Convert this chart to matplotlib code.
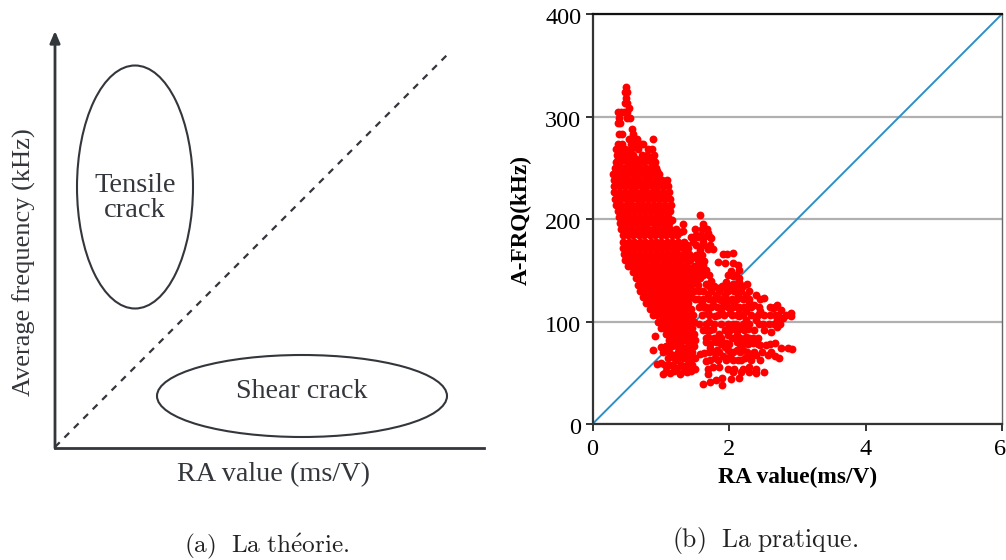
import matplotlib.pyplot as plt
from matplotlib.patches import Ellipse
from matplotlib.transforms import ScaledTranslation

plt.rcParams["font.family"] = ["Liberation Serif", "DejaVu Serif"]
plt.rcParams["mathtext.fontset"] = "cm"

# %% Data: dense body as A-FRQ rows with their RA values
afrq_rows = [329, 324, 318, 313, 308, 304, 299, 294, 288, 283, 278, 273, 268, 262, 256,
             250, 244, 238, 232, 226, 220, 214, 208, 202, 196, 190, 184, 178, 172, 166,
             160, 154, 148, 142, 136, 130, 124, 118, 112, 106, 100, 94, 88, 82,
             259, 247, 235, 223, 211, 199, 187, 175,
             163, 151, 139, 127, 115, 103, 91]
ra_rows = [
    [0.49],
    [0.48, 0.50],
    [0.49],
    [0.48, 0.51],
    [0.54],
    [0.37, 0.42, 0.46, 0.50],
    [0.39, 0.55, 0.51],
    [0.37, 0.41],
    [0.58],
    [0.39, 0.43, 0.60],
    [0.54, 0.60, 0.65, 0.89],
    [0.38, 0.43, 0.56, 0.63, 0.71, 0.74],
    [0.35, 0.40, 0.47, 0.57, 0.66, 0.82, 0.87],
    [0.36, 0.44, 0.52, 0.60, 0.72, 0.80, 0.90],
    [0.35, 0.41, 0.50, 0.58, 0.66, 0.75, 0.85, 0.92],
    [0.33, 0.38, 0.46, 0.54, 0.62, 0.70, 0.78, 0.86, 0.93],
    [0.30, 0.36, 0.43, 0.51, 0.59, 0.67, 0.75, 0.83, 0.91, 0.97],
    [0.31, 0.38, 0.46, 0.54, 0.62, 0.70, 0.78, 0.86, 0.94, 1.02, 1.09],
    [0.32, 0.40, 0.48, 0.56, 0.64, 0.72, 0.80, 0.88, 0.96, 1.04, 1.11],
    [0.32, 0.39, 0.47, 0.55, 0.63, 0.71, 0.79, 0.87, 0.95, 1.03, 1.12],
    [0.33, 0.41, 0.49, 0.57, 0.65, 0.73, 0.81, 0.89, 0.97, 1.05, 1.13],
    [0.34, 0.42, 0.50, 0.58, 0.66, 0.74, 0.82, 0.90, 0.98, 1.06, 1.15],
    [0.37, 0.44, 0.52, 0.60, 0.68, 0.76, 0.84, 0.92, 1.00, 1.08, 1.14],
    [0.39, 0.46, 0.54, 0.62, 0.70, 0.78, 0.86, 0.94, 1.02, 1.10],
    [0.41, 0.48, 0.56, 0.64, 0.72, 0.80, 0.88, 0.96, 1.04, 1.12],
    [0.42, 0.50, 0.58, 0.66, 0.74, 0.82, 0.90, 0.98, 1.06, 1.14, 1.22],
    [0.44, 0.52, 0.60, 0.68, 0.76, 0.84, 0.92, 1.00, 1.08, 1.16, 1.24],
    [0.45, 0.53, 0.61, 0.69, 0.77, 0.85, 0.93, 1.01, 1.09, 1.17, 1.26, 1.34],
    [0.45, 0.52, 0.60, 0.68, 0.76, 0.84, 0.92, 1.00, 1.08, 1.16, 1.24, 1.32, 1.40],
    [0.46, 0.54, 0.62, 0.70, 0.78, 0.86, 0.94, 1.02, 1.10, 1.18, 1.26, 1.34, 1.42],
    [0.47, 0.55, 0.63, 0.71, 0.79, 0.87, 0.95, 1.03, 1.11, 1.19, 1.27, 1.35, 1.43],
    [0.52, 0.58, 0.66, 0.74, 0.82, 0.90, 0.98, 1.06, 1.14, 1.22, 1.30, 1.38, 1.48],
    [0.60, 0.66, 0.74, 0.82, 0.90, 0.98, 1.06, 1.14, 1.22, 1.30, 1.38, 1.46, 1.55],
    [0.64, 0.70, 0.78, 0.86, 0.94, 1.02, 1.10, 1.18, 1.26, 1.34, 1.42, 1.50, 1.58],
    [0.66, 0.72, 0.80, 0.88, 0.96, 1.04, 1.12, 1.20, 1.28, 1.36, 1.44, 1.54],
    [0.70, 0.76, 0.84, 0.92, 1.00, 1.08, 1.16, 1.24, 1.32, 1.40, 1.48, 1.56],
    [0.74, 0.80, 0.88, 0.96, 1.04, 1.12, 1.20, 1.28, 1.36, 1.44],
    [0.78, 0.84, 0.92, 1.00, 1.08, 1.16, 1.24, 1.32, 1.40],
    [0.84, 0.90, 0.98, 1.06, 1.14, 1.22, 1.30, 1.38, 1.44],
    [0.88, 0.94, 1.02, 1.10, 1.18, 1.26, 1.34, 1.40, 1.47],
    [0.96, 1.02, 1.10, 1.18, 1.26, 1.34, 1.40, 1.48],
    [1.00, 1.06, 1.14, 1.22, 1.30, 1.38, 1.46],
    [1.08, 1.16, 1.24, 1.32, 1.40, 1.48],
    [1.12, 1.20, 1.28, 1.36, 1.44, 1.50],
    [0.38, 0.48, 0.56, 0.64, 0.72, 0.80, 0.88],
    [0.34, 0.40, 0.47, 0.55, 0.63, 0.71, 0.79, 0.87, 0.95],
    [0.36, 0.44, 0.52, 0.60, 0.68, 0.76, 0.84, 0.92, 1.00, 1.08],
    [0.37, 0.45, 0.53, 0.61, 0.69, 0.77, 0.85, 0.93, 1.01, 1.09],
    [0.41, 0.48, 0.56, 0.64, 0.72, 0.80, 0.88, 0.96, 1.04, 1.08],
    [0.45, 0.52, 0.60, 0.68, 0.76, 0.84, 0.92, 1.00, 1.08, 1.16],
    [0.48, 0.56, 0.64, 0.72, 0.80, 0.88, 0.96, 1.04, 1.12, 1.20, 1.28],
    [0.50, 0.58, 0.66, 0.74, 0.82, 0.90, 0.98, 1.06, 1.14, 1.22, 1.30, 1.38],
    [0.56, 0.62, 0.70, 0.78, 0.86, 0.94, 1.02, 1.10, 1.18, 1.26, 1.34, 1.42, 1.49],
    [0.66, 0.74, 0.82, 0.90, 0.98, 1.06, 1.14, 1.22, 1.30, 1.38, 1.46, 1.55],
    [0.72, 0.80, 0.88, 0.96, 1.04, 1.12, 1.20, 1.28, 1.36, 1.44, 1.52],
    [0.82, 0.88, 0.96, 1.04, 1.12, 1.20, 1.28, 1.36],
    [0.92, 0.98, 1.06, 1.14, 1.22, 1.30, 1.38],
    [1.04, 1.12, 1.20, 1.28, 1.36, 1.44],
    [1.10, 1.18, 1.26, 1.34, 1.42],
]

# %% Looser clusters on the right and at the bottom
cluster_rows = [190, 182, 175, 165, 160, 155, 150, 145, 135, 130, 122, 114, 106, 98, 92, 84, 78,
                76, 70, 70, 64, 62, 58, 52]
cluster_ra_rows = [
    [1.50, 1.60, 1.68],
    [1.44, 1.54, 1.64, 1.72],
    [1.52, 1.62, 1.72],
    [1.52, 1.60],
    [1.54],
    [1.56, 1.62],
    [1.60, 1.66],
    [1.62, 1.70, 1.98, 2.10],
    [1.70, 1.78, 1.90, 2.00, 2.10, 2.20],
    [1.62, 1.74, 1.86, 1.98, 2.08, 2.18, 2.30],
    [1.50, 1.62, 1.70, 1.78, 1.86, 1.96, 2.04, 2.12, 2.20, 2.30, 2.46],
    [1.56, 1.66, 1.74, 1.82, 1.90, 1.98, 2.06, 2.14, 2.22, 2.32, 2.44, 2.60, 2.68],
    [1.60, 1.70, 1.84, 1.92, 2.04, 2.12, 2.20, 2.32, 2.42, 2.60, 2.72, 2.84],
    [1.56, 1.66, 1.78, 1.88, 1.98, 2.10, 2.20, 2.30, 2.44, 2.58, 2.66, 2.74],
    [1.62, 1.72, 1.94, 2.02, 2.10, 2.22, 2.36],
    [1.66, 1.78, 1.88, 2.04, 2.16, 2.30, 2.42],
    [1.72, 1.88, 2.00, 2.16, 2.28, 2.42, 2.60],
    [1.08, 1.16, 1.24, 1.30, 1.40, 1.48],
    [1.04, 1.12, 1.26, 1.38, 1.46],
    [1.70, 1.78, 1.86, 2.06, 2.16, 2.26, 2.36, 2.48, 2.62],
    [1.10, 1.20, 1.32, 1.42, 1.50],
    [1.72, 1.84, 1.96, 2.06, 2.18, 2.32, 2.46],
    [1.06, 1.16, 1.30, 1.38, 1.46],
    [1.08, 1.20, 1.34, 1.44],
]
cluster_ra = [1.57, 1.33, 1.62, 1.33, 1.64, 1.69, 1.52, 1.59, 1.74, 1.62, 1.47, 1.77, 1.69, 1.57,
              1.91, 1.97, 2.06, 1.64, 1.84, 1.94, 2.06, 2.13, 2.03, 2.15, 2.06, 2.15, 1.96, 2.06,
              2.15, 2.26, 1.84, 1.96, 2.06, 1.69, 1.81, 1.94, 2.13, 2.25, 2.40, 2.52, 1.74, 1.67,
              0.91, 0.89, 1.01, 1.13, 0.94, 1.01, 1.03, 1.13, 1.28, 1.38, 1.18, 1.24, 1.45, 1.45,
              1.50, 1.30, 1.36, 1.20, 1.12, 1.67, 1.64, 1.72, 1.82, 1.94, 1.98, 1.81, 1.96, 1.67,
              1.79, 1.91, 2.01, 1.69, 1.77, 1.86, 1.69, 1.98, 2.08, 2.20, 2.30, 2.39, 2.06, 2.18,
              2.30, 2.40, 2.52, 2.14, 2.03, 1.62, 1.72, 1.81, 1.90, 1.90, 2.11, 2.13, 2.23, 2.30,
              2.40, 2.20, 2.45, 2.54, 2.67, 2.76, 2.86, 2.93, 2.57, 2.67, 2.73, 2.11, 2.23, 2.35,
              1.86, 1.98, 2.11, 2.25, 2.35, 1.67, 1.69, 1.77, 2.15, 2.28, 2.52, 2.62, 2.71, 2.50,
              2.91, 2.91, 2.71, 2.79, 2.67, 2.64, 2.71, 2.76, 2.52, 2.37, 2.30, 2.25, 2.15, 2.01,
              1.89, 1.79, 1.69, 1.64, 1.77, 1.94, 2.08, 2.45, 2.06, 2.40, 2.25, 1.55, 1.60, 1.88,
              2.00, 2.14, 1.30, 1.38, 1.24, 1.58, 1.70]
cluster_afrq = [204, 195, 195, 188, 191, 186, 184, 184, 181, 178, 178, 171, 171, 170,
                166, 166, 167, 159, 158, 157, 157, 155, 149, 150, 144, 142, 139, 137,
                139, 137, 133, 132, 131, 127, 126, 126, 126, 126, 126, 123, 140, 137,
                86, 72, 75, 77, 59, 60, 49, 50, 49, 51, 67, 62, 67, 59,
                54, 72, 64, 56, 58, 80, 69, 74, 72, 75, 72, 80, 79, 61,
                64, 66, 66, 54, 56, 56, 49, 54, 54, 54, 56, 54, 51, 51,
                51, 50, 51, 45, 44, 39, 41, 43, 45, 38, 72, 62, 64, 67,
                67, 72, 77, 77, 79, 74, 74, 73, 67, 66, 64, 80, 79, 79,
                88, 87, 87, 85, 84, 92, 85, 93, 93, 93, 92, 90, 95, 98,
                105, 108, 101, 103, 106, 113, 116, 111, 106, 116, 119, 110, 105, 108,
                110, 105, 108, 114, 116, 116, 118, 110, 98, 101, 101, 122, 118, 121,
                121, 112, 66, 74, 55, 68, 100]

all_rows = list(zip(afrq_rows, ra_rows)) + list(zip(cluster_rows, cluster_ra_rows))
ra_values = [ra for _, row in all_rows for ra in row] + cluster_ra
afrq_values = [f for f, row in all_rows for _ in row] + cluster_afrq

ra_ticks = [0, 2, 4, 6]
afrq_ticks = [0, 100, 200, 300, 400]

fig = plt.figure(figsize=(10.06, 5.6), dpi=100)

# %% (a) schematic, drawn in image pixels
ax_a = fig.add_axes([0, 0, 0.5, 1])
ax_a.set_xlim(0, 503)
ax_a.set_ylim(560, 0)
ax_a.axis("off")

ink = "#33363b"
ax_a.plot([55, 484], [447.5, 447.5], c=ink, lw=2)
ax_a.annotate("", xy=(55, 31), xytext=(55, 448),
              arrowprops=dict(arrowstyle="-|>,head_width=0.3,head_length=0.7", color=ink, lw=2,
                              shrinkA=0, shrinkB=0))
ax_a.plot([55, 447], [447, 55], c=ink, lw=1.6, linestyle=(0, (3, 3)))
ax_a.add_patch(Ellipse((135, 187), 116, 243, fill=False, ec=ink, lw=1.5))
ax_a.add_patch(Ellipse((302, 396), 290, 82, fill=False, ec=ink, lw=1.5))

ax_a.text(135, 198, "Tensile\ncrack", ha="center", va="center", fontsize=20.5,
          color=ink, linespacing=0.97)
ax_a.text(302, 392, "Shear crack", ha="center", va="center", fontsize=20.2, color=ink)
ax_a.text(274, 475, "RA value (ms/V)", ha="center", va="center", fontsize=20.3, color=ink)
ax_a.text(24, 262, "Average frequency (kHz)", ha="center", va="center", rotation=90,
          fontsize=19, color=ink)
ax_a.text(267, 546, r"$\mathrm{(a)\ \ La\ th\acute{e}orie.}$", ha="center", va="center",
          fontsize=18.2, color="#222222")

# %% (b) measured scatter
ax_b = fig.add_axes([592.5 / 1006, 1 - 424 / 560, 409.5 / 1006, 410 / 560])
ax_b.plot([0, 6], [0, 400], c="#2f8fc4", lw=1.4, zorder=2)
ax_b.scatter(ra_values, afrq_values, s=32, c="#ff0000", linewidths=0, zorder=3, clip_on=False)

ax_b.set_xlim(0, 6)
ax_b.set_ylim(0, 400)
ax_b.set_xticks(ra_ticks)
ax_b.set_yticks(afrq_ticks)
ax_b.grid(axis="y", c="#b0b0b0", lw=1.6, zorder=1)
ax_b.tick_params(labelsize=17.5, width=1.4, length=5, color="#333333")
ax_b.tick_params(axis="x", pad=6)
ax_b.tick_params(axis="y", pad=3)
for spine in ["left", "bottom", "top"]:
    ax_b.spines[spine].set_linewidth(1.6)
    ax_b.spines[spine].set_color("#333333")
ax_b.spines["top"].set_color("#111111")
ax_b.spines["right"].set_linewidth(1.0)
ax_b.spines["right"].set_color("#666666")
ax_b.set_xlabel("RA value(ms/V)", fontsize=16.8, fontweight="bold", va="center")
ax_b.set_ylabel("A-FRQ(kHz)", fontsize=16.7, fontweight="bold", va="center")
ax_b.xaxis.set_label_coords(0.5, -53 / 410)
ax_b.yaxis.set_label_coords(-71.5 / 409.5, 0.4976)

# y labels sit a little low in the reference, the last x label stays inside the image
for label in ax_b.get_yticklabels():
    label.set_transform(label.get_transform() + ScaledTranslation(0, -1.5 / 72, fig.dpi_scale_trans))
last_x = ax_b.get_xticklabels()[-1]
last_x.set_transform(last_x.get_transform() + ScaledTranslation(-1.5 / 72, 0, fig.dpi_scale_trans))

fig.text(765 / 1006, 1 - 541 / 560, r"$\mathrm{(b)\ \ La\ pratique.}$", ha="center", va="center",
         fontsize=18.5, color="#222222")

fig.savefig("out.png", dpi=100)
